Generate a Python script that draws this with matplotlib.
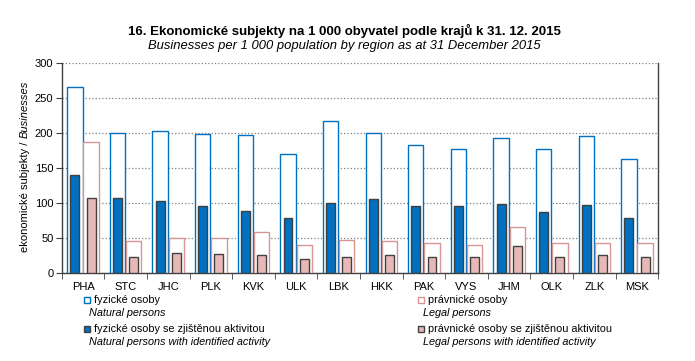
import matplotlib
matplotlib.use("Agg")
import matplotlib.pyplot as plt
from matplotlib.patches import Rectangle
import numpy as np

plt.rcParams['font.family'] = ['Liberation Sans', 'DejaVu Sans']

# data
regions = ['PHA', 'STC', 'JHC', 'PLK', 'KVK', 'ULK', 'LBK',
           'HKK', 'PAK', 'VYS', 'JHM', 'OLK', 'ZLK', 'MSK']
natural = [266, 200, 204, 199, 197, 170, 217, 201, 184, 177, 194, 177, 196, 164]
natural_active = [140, 107, 103, 96, 89, 79, 100, 106, 96, 96, 99, 87, 97, 79]
legal = [187, 46, 50, 50, 59, 41, 47, 46, 43, 40, 66, 43, 44, 43]
legal_active = [107, 24, 29, 27, 26, 20, 24, 26, 24, 24, 39, 24, 26, 24]

W, H = 695, 361
fig = plt.figure(figsize=(W / 100, H / 100), dpi=100)
ax = fig.add_axes([61.7 / W, 1 - 273.3 / H, (658.3 - 61.7) / W, (273.3 - 63.3) / H])

blue = '#0070C0'
pink_edge = '#D99594'
pink_fill = '#E6B9B8'
dark = '#404040'

x = np.arange(len(regions))
off = 0.19
ax.bar(x - off, natural, width=0.36, facecolor='white', edgecolor=blue, linewidth=1.0, zorder=3)
ax.bar(x - off, natural_active, width=0.21, facecolor=blue, edgecolor=dark, linewidth=1.0, zorder=4)
ax.bar(x + off, legal, width=0.36, facecolor='white', edgecolor=pink_edge, linewidth=1.0, zorder=3)
ax.bar(x + off, legal_active, width=0.21, facecolor=pink_fill, edgecolor=dark, linewidth=1.0, zorder=4)

ax.set_xlim(-0.5, len(regions) - 0.5)
ax.set_ylim(0, 300)
ax.set_yticks(range(0, 301, 50))
ax.set_xticks(x)
ax.set_xticklabels(regions, fontsize=8)
ax.set_xticks(np.arange(-0.5, len(regions), 1), minor=True)
ax.tick_params(axis='x', which='major', length=0, pad=6)
ax.tick_params(axis='x', which='minor', length=4, color=dark, direction='out')
ax.tick_params(axis='y', labelsize=8, length=4, color=dark, pad=2)
ax.yaxis.grid(True, linestyle=':', color='#808080', linewidth=0.9, zorder=0)
ax.set_axisbelow(True)
for s in ['left', 'bottom', 'right']:
    ax.spines[s].set_color(dark)
    ax.spines[s].set_linewidth(1.0)
ax.spines['top'].set_visible(False)

# titles
fig.text(0.495, 1 - 31 / H, '16. Ekonomické subjekty na 1 000 obyvatel podle krajů k 31. 12. 2015',
         ha='center', va='center', fontsize=9.5, fontweight='bold')
fig.text(0.495, 1 - 46 / H, 'Businesses per 1 000 population by region as at 31 December 2015',
         ha='center', va='center', fontsize=9.4, style='italic')

# y label with italic part
fig.canvas.draw()
r = fig.canvas.get_renderer()
y0 = 1 - 252 / H
t1 = fig.text(25 / W, y0, 'ekonomické subjekty / ', rotation=90, ha='center', va='bottom', fontsize=8)
h1 = t1.get_window_extent(r).height / H
fig.text(25 / W, y0 + h1, 'Businesses', rotation=90, ha='center', va='bottom', fontsize=8, style='italic')

# legend
def legend_item(mx, ty, face, edge, czech, english):
    fig.add_artist(Rectangle(((mx - 3) / W, 1 - (ty + 3) / H), 6 / W, 6 / H,
                             transform=fig.transFigure, facecolor=face, edgecolor=edge, linewidth=1.0))
    fig.text((mx + 7) / W, 1 - ty / H, czech, ha='left', va='center', fontsize=7.8)
    fig.text((mx + 2) / W, 1 - (ty + 13) / H, english, ha='left', va='center', fontsize=7.8, style='italic')

legend_item(87, 300, 'white', blue, 'fyzické osoby', 'Natural persons')
legend_item(87, 329, blue, dark, 'fyzické osoby se zjištěnou aktivitou',
            'Natural persons with identified activity')
legend_item(421, 300, 'white', pink_edge, 'právnické osoby', 'Legal persons')
legend_item(421, 329, pink_fill, dark, 'právnické osoby se zjištěnou aktivitou',
            'Legal persons with identified activity')

fig.savefig('out.png', dpi=100)
